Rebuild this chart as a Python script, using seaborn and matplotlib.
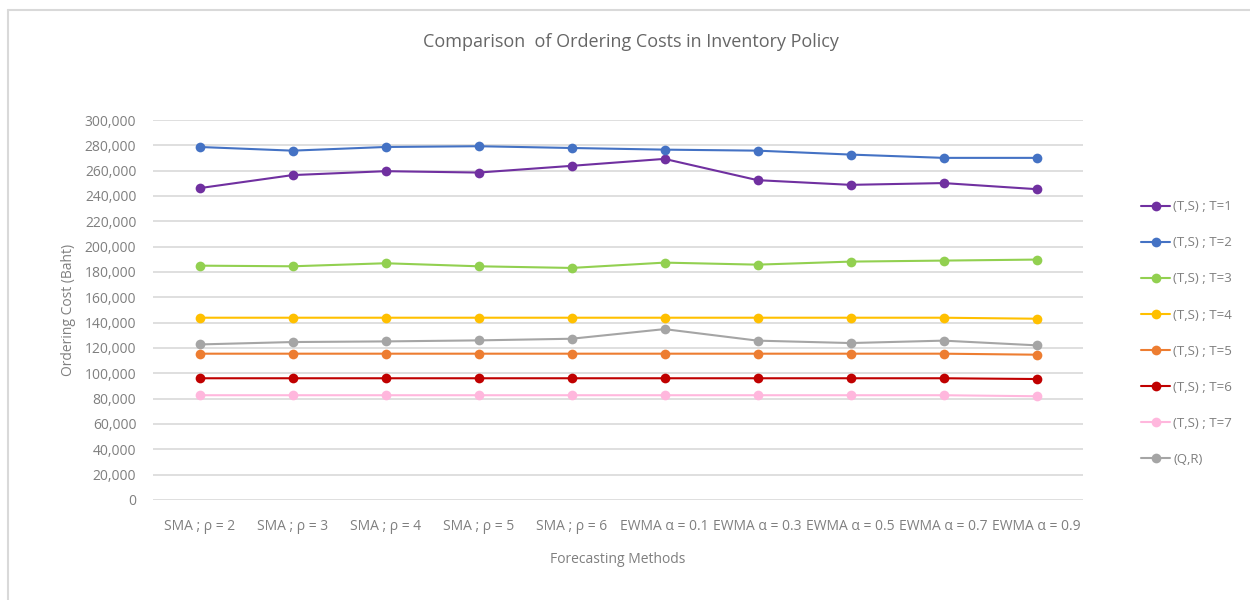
import pandas as pd
import matplotlib.pyplot as plt
import seaborn as sns

sns.set_theme(style="white")
plt.rcParams['font.family'] = ['Open Sans', 'DejaVu Sans']

# ---------------------------
# data
# ---------------------------
methods = ["SMA ; ρ = 2", "SMA ; ρ = 3", "SMA ; ρ = 4", "SMA ; ρ = 5", "SMA ; ρ = 6",
           "EWMA α = 0.1", "EWMA α = 0.3", "EWMA α = 0.5", "EWMA α = 0.7", "EWMA α = 0.9"]

ts_t1 = [246200, 256500, 259600, 258500, 263800, 269300, 252500, 248800, 250200, 245400]
ts_t2 = [278700, 275800, 278700, 279300, 277900, 276600, 275800, 272700, 270100, 270100]
ts_t3 = [185000, 184500, 186900, 184500, 183200, 187400, 185800, 188200, 189000, 189800]
ts_t4 = [143900, 143900, 143900, 143900, 143900, 143900, 143900, 143900, 143900, 143100]
ts_t5 = [115500, 115500, 115500, 115500, 115500, 115500, 115500, 115500, 115500, 114700]
ts_t6 = [96100, 96100, 96100, 96100, 96100, 96100, 96100, 96100, 96100, 95500]
ts_t7 = [82700, 82700, 82700, 82700, 82700, 82700, 82700, 82700, 82700, 81900]
qr = [122800, 124700, 125200, 126000, 127300, 134900, 125800, 123900, 125800, 122100]

policies = ["(T,S) ; T=1", "(T,S) ; T=2", "(T,S) ; T=3", "(T,S) ; T=4",
            "(T,S) ; T=5", "(T,S) ; T=6", "(T,S) ; T=7", "(Q,R)"]
series = [ts_t1, ts_t2, ts_t3, ts_t4, ts_t5, ts_t6, ts_t7, qr]
colors = ["#7030A0", "#4472C4", "#92D050", "#FFC000", "#ED7D31", "#C00000", "#FFB7DD", "#A5A5A5"]

df = pd.DataFrame([
    {"method": m, "policy": p, "cost": v}
    for p, vals in zip(policies, series)
    for m, v in zip(methods, vals)
])

# ---------------------------
# plot
# ---------------------------
fig = plt.figure(figsize=(12.5, 6), dpi=100)
ax = fig.add_axes([0.1224, 0.1667, 0.7440, 0.6333])

sns.lineplot(data=df, x="method", y="cost", hue="policy", hue_order=policies,
             palette=dict(zip(policies, colors)), marker="o", markersize=7,
             markeredgewidth=0, linewidth=1.5, sort=False, ax=ax)

ax.set_ylim(0, 300000)
ax.set_xlim(-0.5, len(methods) - 0.5)
ax.set_yticks(range(0, 300001, 20000))
ax.yaxis.set_major_formatter(plt.FuncFormatter(lambda v, _: f"{int(v):,}"))
ax.grid(axis="y", color="#D9D9D9", linewidth=1.2)
ax.set_axisbelow(True)
for s in ax.spines.values():
    s.set_visible(False)
ax.tick_params(axis="both", length=0, labelsize=10, colors="#7F7F7F", pad=12)
ax.tick_params(axis="x", pad=14)

ax.set_xlabel("Forecasting Methods", fontsize=10, color="#7F7F7F", labelpad=13)
ax.set_ylabel("Ordering Cost (Baht)", fontsize=10, color="#7F7F7F", labelpad=6)
fig.text(0.505, 0.93, "Comparison  of Ordering Costs in Inventory Policy",
         ha="center", va="center", fontsize=13, color="#666666")

leg = ax.legend(loc="upper left", bbox_to_anchor=(1.05, 0.82), frameon=False,
                fontsize=9.5, labelspacing=1.75, handlelength=2.2, handletextpad=0.2)
for t in leg.get_texts():
    t.set_color("#7F7F7F")

# outer chart border (left and top only are visible in the reference)
fig.add_artist(plt.Line2D([0.0064, 0.0064], [0.0, 0.983], color="#D9D9D9", linewidth=1.5))
fig.add_artist(plt.Line2D([0.0064, 1.0], [0.983, 0.983], color="#D9D9D9", linewidth=1.5))

fig.savefig("out.png", dpi=100)
